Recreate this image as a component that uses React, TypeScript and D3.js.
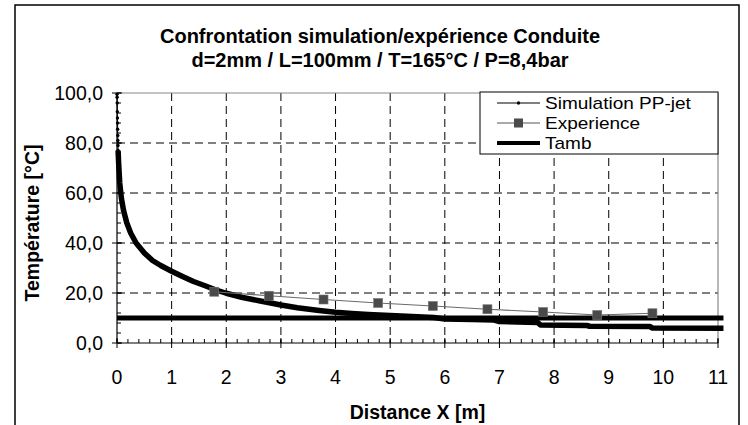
import React from "react";
import * as d3 from "d3";

const simX = [0, 0.002, 0.004, 0.006, 0.008, 0.01, 0.012, 0.014, 0.016, 0.018, 0.02, 0.03, 0.05, 0.08, 0.12, 0.18, 0.25, 0.35, 0.5, 0.65, 0.8, 1.0, 1.2, 1.4, 1.6, 1.8, 2.0, 2.3, 2.6, 3.0, 3.3, 3.7, 4.0, 4.3, 4.6, 5.0, 5.4, 5.8, 6.0, 6.5, 6.9, 7.0, 7.7, 7.75, 8.6, 8.65, 9.75, 9.8, 11.1];
const simY = [99.5, 98.3, 96, 92.5, 90, 88, 85.5, 83, 81, 79, 77, 72, 64, 58, 53, 48, 44, 40, 36, 33, 31, 28.7, 26.6, 24.6, 23, 21.3, 19.9, 18.2, 16.9, 15.2, 14.1, 13.0, 12.3, 11.8, 11.4, 11.0, 10.6, 10.2, 9.6, 9.4, 9.2, 8.6, 8.2, 7.2, 7.0, 6.7, 6.6, 6.0, 5.9];
const simDotCount = 11;

const expX = [1.78, 2.78, 3.78, 4.78, 5.78, 6.78, 7.8, 8.79, 9.8];
const expY = [20.5, 18.9, 17.4, 16.0, 14.8, 13.5, 12.4, 11.2, 11.9];

const tambX = [0, 11.1];
const tambY = [10, 10];

const xTicks = [0, 1, 2, 3, 4, 5, 6, 7, 8, 9, 10, 11];
const yTicks = [0, 20, 40, 60, 80, 100];
const yTickLabels = ["0,0", "20,0", "40,0", "60,0", "80,0", "100,0"];
const legendLabels = ["Simulation PP-jet", "Experience", "Tamb"];
const titleLines = ["Confrontation simulation/expérience Conduite", "d=2mm / L=100mm / T=165°C / P=8,4bar"];

const W = 748, H = 425;
const L = 117, R = 718, T = 93, B = 343;
const FONT = "'Liberation Sans', Arial, sans-serif";

export default function App() {
  const x = d3.scaleLinear().domain([0, 11]).range([L, R]);
  const y = d3.scaleLinear().domain([0, 100]).range([B, T]);
  const line = d3.line<[number, number]>().x(d => x(d[0])).y(d => y(d[1]));
  const sim: [number, number][] = simX.map((v, i) => [v, simY[i]]);
  const exp: [number, number][] = expX.map((v, i) => [v, expY[i]]);
  const tamb: [number, number][] = tambX.map((v, i) => [v, tambY[i]]);
  const xMinor = d3.range(0, 11.001, 0.2);
  const yMinor = d3.range(0, 100.001, 4);
  const legX = 480, legY = 92, legW = 238, legH = 62;
  return (
    <svg width={W} height={H} style={{ position: "absolute", left: 0, top: 0 }} fontFamily={FONT}>
      <rect x={0} y={0} width={W} height={H} fill="#fff" />
      <rect x={15} y={5} width={724} height={440} fill="none" stroke="#000" strokeWidth={1.5} />
      {titleLines.map((t, i) => (
        <text key={i} x={380} y={43 + i * 24} textAnchor="middle" fontWeight="bold" fontSize={20}>{t}</text>
      ))}
      {/* grid */}
      {xTicks.slice(1, -1).map(t => (
        <line key={"gx" + t} x1={x(t)} x2={x(t)} y1={T} y2={B} stroke="#000" strokeDasharray="8,5" strokeWidth={1} />
      ))}
      {yTicks.slice(1, -1).map(t => (
        <line key={"gy" + t} x1={L} x2={R} y1={y(t)} y2={y(t)} stroke="#000" strokeDasharray="8,5" strokeWidth={1} />
      ))}
      <line x1={L} x2={R} y1={T} y2={T} stroke="#888" strokeWidth={1.2} />
      <line x1={R} x2={R} y1={T} y2={B} stroke="#888" strokeWidth={1.2} />
      {/* axes */}
      <line x1={L} x2={R} y1={B} y2={B} stroke="#000" strokeWidth={1.2} />
      <line x1={L} x2={L} y1={T} y2={B} stroke="#000" strokeWidth={1.2} />
      {xMinor.map((t, i) => (
        <line key={"xm" + i} x1={x(t)} x2={x(t)} y1={B} y2={B - 4} stroke="#000" strokeWidth={1} />
      ))}
      {xTicks.map(t => (
        <line key={"xt" + t} x1={x(t)} x2={x(t)} y1={B - 5} y2={B + 5} stroke="#000" strokeWidth={1} />
      ))}
      {yMinor.map((t, i) => (
        <line key={"ym" + i} x1={L} x2={L + 4} y1={y(t)} y2={y(t)} stroke="#000" strokeWidth={1} />
      ))}
      {yTicks.map(t => (
        <line key={"yt" + t} x1={L - 5} x2={L + 5} y1={y(t)} y2={y(t)} stroke="#000" strokeWidth={1} />
      ))}
      {xTicks.map(t => (
        <text key={"xl" + t} x={x(t)} y={B + 41} textAnchor="middle" fontSize={19.5}>{t}</text>
      ))}
      {yTicks.map((t, i) => (
        <text key={"yl" + t} x={L - 14} y={y(t) + 7} textAnchor="end" fontSize={19.5}>{yTickLabels[i]}</text>
      ))}
      <text x={(L + R) / 2} y={419} textAnchor="middle" fontWeight="bold" fontSize={19.5}>Distance X [m]</text>
      <text transform={`translate(39,${(T + B) / 2 + 5}) rotate(-90)`} textAnchor="middle" fontWeight="bold" fontSize={19.5}>Température [°C]</text>
      {/* series */}
      <path d={line(tamb) || ""} fill="none" stroke="#000" strokeWidth={5} />
      <path d={line(sim.slice(0, simDotCount)) || ""} fill="none" stroke="#000" strokeWidth={1} />
      <path d={line(sim.slice(simDotCount - 1)) || ""} fill="none" stroke="#000" strokeWidth={5.5} strokeLinejoin="round" />
      {sim.slice(0, simDotCount).map((d, i) => (
        <circle key={"sd" + i} cx={x(d[0])} cy={y(d[1])} r={1.7} fill="#000" />
      ))}
      <path d={line(exp) || ""} fill="none" stroke="#6a6a6a" strokeWidth={1.2} />
      {exp.map((d, i) => (
        <rect key={"ep" + i} x={x(d[0]) - 4.5} y={y(d[1]) - 4.5} width={9} height={9} fill="#4a4a4a" stroke="#777" strokeWidth={0.6} />
      ))}
      {/* legend */}
      <rect x={legX} y={legY} width={legW} height={legH} fill="#fff" stroke="#000" strokeWidth={1} />
      {legendLabels.map((lab, i) => {
        const cy = legY + 11 + i * 20;
        return (
          <g key={"lg" + i}>
            <line x1={497} x2={540} y1={cy} y2={cy} stroke={i === 1 ? "#555" : "#000"} strokeWidth={i === 2 ? 4 : 1} />
            {i === 0 && <circle cx={518.5} cy={cy} r={1.7} fill="#000" />}
            {i === 1 && <rect x={514} y={cy - 4.5} width={9} height={9} fill="#4a4a4a" />}
            <text x={545} y={cy + 6} fontSize={17} transform={`translate(545,0) scale(1.12,1) translate(-545,0)`}>{lab}</text>
          </g>
        );
      })}
    </svg>
  );
}
